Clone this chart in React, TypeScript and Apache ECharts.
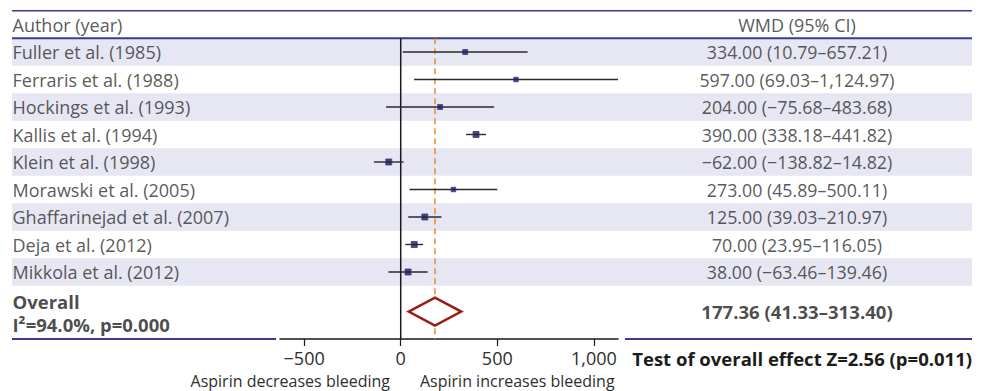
import React, { useEffect, useRef } from "react";
import * as echarts from "echarts";

// ---------- data ----------
const studies = [
  "Fuller et al. (1985)",
  "Ferraris et al. (1988)",
  "Hockings et al. (1993)",
  "Kallis et al. (1994)",
  "Klein et al. (1998)",
  "Morawski et al. (2005)",
  "Ghaffarinejad et al. (2007)",
  "Deja et al. (2012)",
  "Mikkola et al. (2012)",
];
const estimates = [334.0, 597.0, 204.0, 390.0, -62.0, 273.0, 125.0, 70.0, 38.0];
const lowerCI = [10.79, 69.03, -75.68, 338.18, -138.82, 45.89, 39.03, 23.95, -63.46];
const upperCI = [657.21, 1124.97, 483.68, 441.82, 14.82, 500.11, 210.97, 116.05, 139.46];
const ciTexts = [
  "334.00 (10.79\u2013657.21)",
  "597.00 (69.03\u20131,124.97)",
  "204.00 (\u221275.68\u2013483.68)",
  "390.00 (338.18\u2013441.82)",
  "\u221262.00 (\u2212138.82\u201314.82)",
  "273.00 (45.89\u2013500.11)",
  "125.00 (39.03\u2013210.97)",
  "70.00 (23.95\u2013116.05)",
  "38.00 (\u221263.46\u2013139.46)",
];
const markerSizes = [5, 4.5, 5, 6, 6, 4.5, 6, 6, 6];
const overallEstimate = 177.36;
const overallLower = 41.33;
const overallUpper = 313.4;
const overallText = "177.36 (41.33\u2013313.40)";
const overallLabel = "Overall";
const heterogeneityText = "I\u00b2=94.0%, p=0.000";
const testText = "Test of overall effect Z=2.56 (p=0.011)";
const xTicks = [-500, 0, 500, 1000];
const headerLeft = "Author (year)";
const headerRight = "WMD (95% CI)";
const leftNote = "Aspirin decreases bleeding";
const rightNote = "Aspirin increases bleeding";

// ---------- layout ----------
const W = 984;
const H = 391;
const FONT = "'Open Sans', 'Noto Sans', sans-serif";
const TABLE_LEFT = 12;
const TABLE_RIGHT = 972;
const ROW_H = 27.5;
const TOP = 10.75;
const BOTTOM_Y = 339;
const PLOT_LEFT = 280;
const PLOT_RIGHT = 618;
const X_MIN = -625;
const X_MAX = 1125;
const Y_MIN = -0.5;
const Y_MAX = (BOTTOM_Y - TOP) / ROW_H + Y_MIN;
const OVERALL_ROW = 10.44;
const CI_COL = (797 - TABLE_LEFT) / (TABLE_RIGHT - TABLE_LEFT);
const LEFT_RULE_END = (276 - TABLE_LEFT) / (TABLE_RIGHT - TABLE_LEFT);
const RIGHT_RULE_START = (625 - TABLE_LEFT) / (TABLE_RIGHT - TABLE_LEFT);
const RULE_COLOR = "#3b3990";
const TEXT_COLOR = "#2e2e2e";
const BOLD_COLOR = "#1c1c1c";

function fmtTick(v: number) {
  const abs = Math.abs(v).toLocaleString("en-US");
  return v < 0 ? "\u2212" + abs : abs;
}

function textSeries(items: { x: number; y: number; text: string }[], label: any, z = 10) {
  return {
    type: "scatter",
    xAxisIndex: 0,
    yAxisIndex: 0,
    symbolSize: 1,
    silent: true,
    z,
    itemStyle: { color: "transparent" },
    data: items.map((it) => ({ value: [it.x, it.y], name: it.text })),
    label: {
      show: true,
      formatter: (p: any) => p.name,
      fontFamily: FONT,
      color: TEXT_COLOR,
      ...label,
    },
  };
}

export default function App() {
  const ref = useRef<HTMLDivElement>(null);

  useEffect(() => {
    if (!ref.current) return;
    const chart = echarts.init(ref.current, undefined, { renderer: "svg" });

    const bandRows = studies.map((_, i) => i + 1).filter((r) => r % 2 === 1);
    const rules = [
      [Y_MIN, 0, 1, 1.5],
      [0.5, 0, 1, 2],
      [Y_MAX, 0, LEFT_RULE_END, 2],
      [Y_MAX, RIGHT_RULE_START, 1, 2],
    ];

    const option: any = {
      animation: false,
      backgroundColor: "#ffffff",
      grid: [
        { left: TABLE_LEFT, width: TABLE_RIGHT - TABLE_LEFT, top: TOP, height: BOTTOM_Y - TOP },
        { left: PLOT_LEFT, width: PLOT_RIGHT - PLOT_LEFT, top: TOP, height: BOTTOM_Y - TOP },
      ],
      xAxis: [
        { type: "value", gridIndex: 0, min: 0, max: 1, show: false },
        {
          type: "value",
          gridIndex: 1,
          min: X_MIN,
          max: X_MAX,
          splitLine: { show: false },
          axisLine: { show: true, onZero: false, lineStyle: { color: "#1a1a1a", width: 1.5 } },
          axisTick: {
            show: true,
            customValues: xTicks,
            length: 7,
            lineStyle: { color: "#1a1a1a", width: 1.2 },
          },
          axisLabel: {
            customValues: xTicks,
            formatter: (v: number) => fmtTick(v),
            fontFamily: FONT,
            fontSize: 18,
            color: TEXT_COLOR,
            margin: 10,
          },
        },
      ],
      yAxis: [
        { type: "value", gridIndex: 0, min: Y_MIN, max: Y_MAX, inverse: true, show: false },
        { type: "value", gridIndex: 1, min: Y_MIN, max: Y_MAX, inverse: true, show: false },
      ],
      series: [
        {
          type: "custom",
          xAxisIndex: 0,
          yAxisIndex: 0,
          silent: true,
          z: 0,
          data: bandRows.map((r) => [r]),
          renderItem: (params: any, api: any) => {
            const r = api.value(0);
            const p0 = api.coord([0, r - 0.5]);
            const p1 = api.coord([1, r + 0.5]);
            return {
              type: "rect",
              shape: { x: p0[0], y: p0[1], width: p1[0] - p0[0], height: p1[1] - p0[1] },
              style: { fill: "#e7e6f3" },
            };
          },
        },
        {
          type: "custom",
          xAxisIndex: 0,
          yAxisIndex: 0,
          silent: true,
          z: 1,
          data: rules,
          renderItem: (params: any, api: any) => {
            const y = api.value(0);
            const a = api.coord([api.value(1), y]);
            const b = api.coord([api.value(2), y]);
            return {
              type: "line",
              shape: { x1: a[0], y1: a[1], x2: b[0], y2: b[1] },
              style: { stroke: RULE_COLOR, lineWidth: api.value(3) },
            };
          },
        },
        {
          type: "custom",
          xAxisIndex: 1,
          yAxisIndex: 1,
          silent: true,
          z: 2,
          data: [[0]],
          renderItem: (params: any, api: any) => {
            const x = api.value(0);
            const a = api.coord([x, 0.5]);
            const b = api.coord([x, Y_MAX]);
            return {
              type: "line",
              shape: { x1: a[0], y1: a[1], x2: b[0], y2: b[1] },
              style: { stroke: "#1a1a1a", lineWidth: 1.5 },
            };
          },
        },
        {
          type: "custom",
          xAxisIndex: 1,
          yAxisIndex: 1,
          silent: true,
          z: 2,
          data: [[overallEstimate]],
          renderItem: (params: any, api: any) => {
            const x = api.value(0);
            const a = api.coord([x, 0.5]);
            const b = api.coord([x, Y_MAX]);
            return {
              type: "line",
              shape: { x1: a[0], y1: a[1], x2: b[0], y2: b[1] },
              style: { stroke: "#f0892f", lineWidth: 1.5, lineDash: [6, 4] },
            };
          },
        },
        {
          type: "custom",
          xAxisIndex: 1,
          yAxisIndex: 1,
          silent: true,
          z: 3,
          data: studies.map((_, i) => [lowerCI[i], upperCI[i], i + 1]),
          renderItem: (params: any, api: any) => {
            const r = api.value(2);
            const a = api.coord([api.value(0), r]);
            const b = api.coord([api.value(1), r]);
            return {
              type: "line",
              shape: { x1: a[0], y1: a[1], x2: b[0], y2: b[1] },
              style: { stroke: "#2a2a2a", lineWidth: 1.4 },
            };
          },
        },
        {
          type: "scatter",
          xAxisIndex: 1,
          yAxisIndex: 1,
          silent: true,
          z: 4,
          symbol: "rect",
          symbolSize: (_v: any, p: any) => markerSizes[p.dataIndex],
          itemStyle: { color: "#1f1e45", borderColor: "#3b3896", borderWidth: 1 },
          data: estimates.map((e, i) => [e, i + 1]),
        },
        {
          type: "custom",
          xAxisIndex: 1,
          yAxisIndex: 1,
          silent: true,
          z: 5,
          data: [[overallLower, overallEstimate, overallUpper, OVERALL_ROW]],
          renderItem: (params: any, api: any) => {
            const r = api.value(3);
            const h = 14 / ROW_H;
            const pts = [
              api.coord([api.value(0), r]),
              api.coord([api.value(1), r - h]),
              api.coord([api.value(2), r]),
              api.coord([api.value(1), r + h]),
            ];
            return {
              type: "polygon",
              shape: { points: pts },
              style: { fill: "#ffffff", stroke: "#9c1c13", lineWidth: 2.5, lineJoin: "miter" },
            };
          },
        },
        textSeries([{ x: 0, y: 0, text: headerLeft }], {
          position: "right",
          distance: 0,
          fontSize: 18,
        }),
        textSeries([{ x: CI_COL, y: 0, text: headerRight }], {
          position: "inside",
          fontSize: 18,
        }),
        textSeries(
          studies.map((s, i) => ({ x: 0, y: i + 1, text: s })),
          { position: "right", distance: 0, fontSize: 18 }
        ),
        textSeries(
          ciTexts.map((s, i) => ({ x: CI_COL, y: i + 1, text: s })),
          { position: "inside", fontSize: 17.8 }
        ),
        textSeries([{ x: 0, y: OVERALL_ROW, text: overallLabel + "\n" + heterogeneityText }], {
          position: "right",
          distance: 0,
          fontSize: 18.5,
          fontWeight: "bold",
          lineHeight: 23,
          color: BOLD_COLOR,
          offset: [0, 1.5],
        }),
        textSeries([{ x: CI_COL, y: OVERALL_ROW, text: overallText }], {
          position: "inside",
          fontSize: 18.6,
          fontWeight: "bold",
          color: BOLD_COLOR,
        }),
      ],
      graphic: [
        {
          type: "text",
          x: TABLE_RIGHT,
          y: 358,
          silent: true,
          style: {
            text: testText,
            align: "right",
            verticalAlign: "middle",
            fontFamily: FONT,
            fontSize: 18.5,
            fontWeight: "bold",
            fill: BOLD_COLOR,
          },
        },
        {
          type: "text",
          x: 390,
          y: 381,
          silent: true,
          style: {
            text: leftNote,
            align: "right",
            verticalAlign: "middle",
            fontFamily: FONT,
            fontSize: 16,
            fill: TEXT_COLOR,
          },
        },
        {
          type: "text",
          x: 420,
          y: 381,
          silent: true,
          style: {
            text: rightNote,
            align: "left",
            verticalAlign: "middle",
            fontFamily: FONT,
            fontSize: 16,
            fill: TEXT_COLOR,
          },
        },
      ],
    };

    chart.setOption(option);
    return () => chart.dispose();
  }, []);

  return (
    <div
      ref={ref}
      style={{ position: "absolute", left: 0, top: 0, width: W, height: H }}
    />
  );
}
